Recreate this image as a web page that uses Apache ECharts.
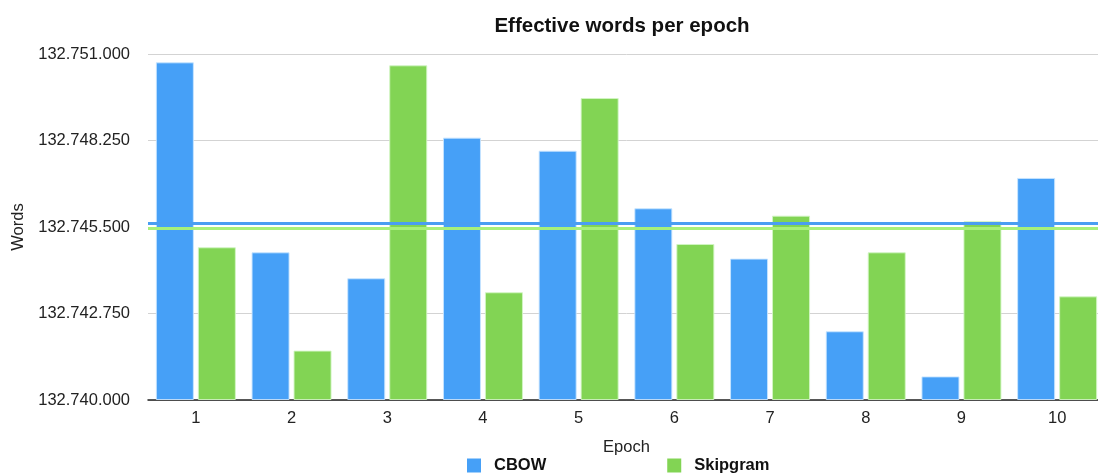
<!DOCTYPE html>
<html>
<head>
<meta charset="utf-8">
<title>Effective words per epoch</title>
<script src="https://cdn.jsdelivr.net/npm/echarts@6/dist/echarts.min.js"></script>
<style>
  html, body { margin: 0; padding: 0; background: #ffffff; overflow: hidden; }
  /* the plot runs a few pixels past the right edge of the window */
  #chart { width: 1105px; height: 474px; }
</style>
</head>
<body>
<div id="chart"></div>
<script>
// Epoch numbers along the x axis
const epochs = ['1', '2', '3', '4', '5', '6', '7', '8', '9', '10'];

// Effective words processed in each epoch
const cbowWords = [132750735, 132744695, 132743870, 132748340, 132747925,
                   132746095, 132744495, 132742185, 132740750, 132747060];
const skipgramWords = [132744855, 132741570, 132750640, 132743425, 132749600,
                       132744960, 132745860, 132744695, 132745680, 132743295];

// Value axis: starts at 132.740.000 and steps by 2.750 words
const axisBase = 132740000;
const axisStep = 2750;
const axisSteps = 4;

// Bars are measured from the axis base so the ticks start at the base itself
const offset = arr => arr.map(v => v - axisBase);

// Thousands separated by dots, e.g. 132.745.500
const fmtWords = v => Math.round(v + axisBase).toString().replace(/\B(?=(\d{3})+(?!\d))/g, '.');

const FONT = '"Liberation Sans", Arial, Helvetica, sans-serif';

const chart = echarts.init(document.getElementById('chart'), null, { renderer: 'canvas' });

function averageLine(color) {
  return {
    silent: true,
    symbol: ['none', 'none'],
    label: { show: false },
    lineStyle: { color: color, width: 3, type: 'solid' },
    emphasis: { disabled: true },
    data: [{ type: 'average' }]
  };
}

chart.setOption({
  animation: false,
  backgroundColor: '#ffffff',
  textStyle: { fontFamily: FONT },
  title: {
    text: 'Effective words per epoch',
    left: 617,
    textAlign: 'center',
    top: 11,
    textStyle: { fontFamily: FONT, fontSize: 20.5, fontWeight: 'bold', color: '#111111' }
  },
  legend: {
    data: ['CBOW', 'Skipgram'],
    left: 462,
    top: 452,
    icon: 'rect',
    itemWidth: 14,
    itemHeight: 14,
    itemGap: 121,
    itemStyle: { borderWidth: 0 },
    textStyle: {
      fontFamily: FONT, fontSize: 16.5, fontWeight: 'bold', color: '#111111',
      padding: [0, 0, 0, 8]
    }
  },
  grid: { left: 148, width: 957, top: 54, bottom: 74 },
  xAxis: {
    type: 'category',
    data: epochs,
    name: 'Epoch',
    nameLocation: 'middle',
    nameGap: 39,
    nameTextStyle: { fontFamily: FONT, fontSize: 16.5, color: '#222222' },
    axisLine: { show: true, lineStyle: { color: '#222222', width: 1.5 } },
    axisTick: { show: false },
    axisLabel: { fontFamily: FONT, fontSize: 16.5, color: '#222222', margin: 10 }
  },
  yAxis: {
    type: 'value',
    min: 0,
    max: axisStep * axisSteps,
    interval: axisStep,
    name: 'Words',
    nameLocation: 'middle',
    nameGap: 118,
    nameRotate: 90,
    nameTextStyle: { fontFamily: FONT, fontSize: 16.5, color: '#222222' },
    axisLine: { show: false },
    axisTick: { show: false },
    axisLabel: {
      fontFamily: FONT, fontSize: 16.5, color: '#222222', margin: 18,
      formatter: fmtWords
    },
    splitLine: { show: true, lineStyle: { color: '#d3d3d3', width: 1 } }
  },
  series: [
    {
      name: 'CBOW',
      type: 'bar',
      data: offset(cbowWords),
      barWidth: 38,
      barGap: '10.5%',
      itemStyle: { color: '#46a0f7', borderColor: 'rgba(200,228,255,0.9)', borderWidth: 1 },
      markLine: averageLine('#4a9ef2'),
      z: 2
    },
    {
      name: 'Skipgram',
      type: 'bar',
      data: offset(skipgramWords),
      barWidth: 38,
      barGap: '10.5%',
      itemStyle: { color: '#82d454', borderColor: 'rgba(210,245,195,0.9)', borderWidth: 1 },
      markLine: averageLine('#a8f07a'),
      z: 2
    }
  ]
});
</script>
</body>
</html>
